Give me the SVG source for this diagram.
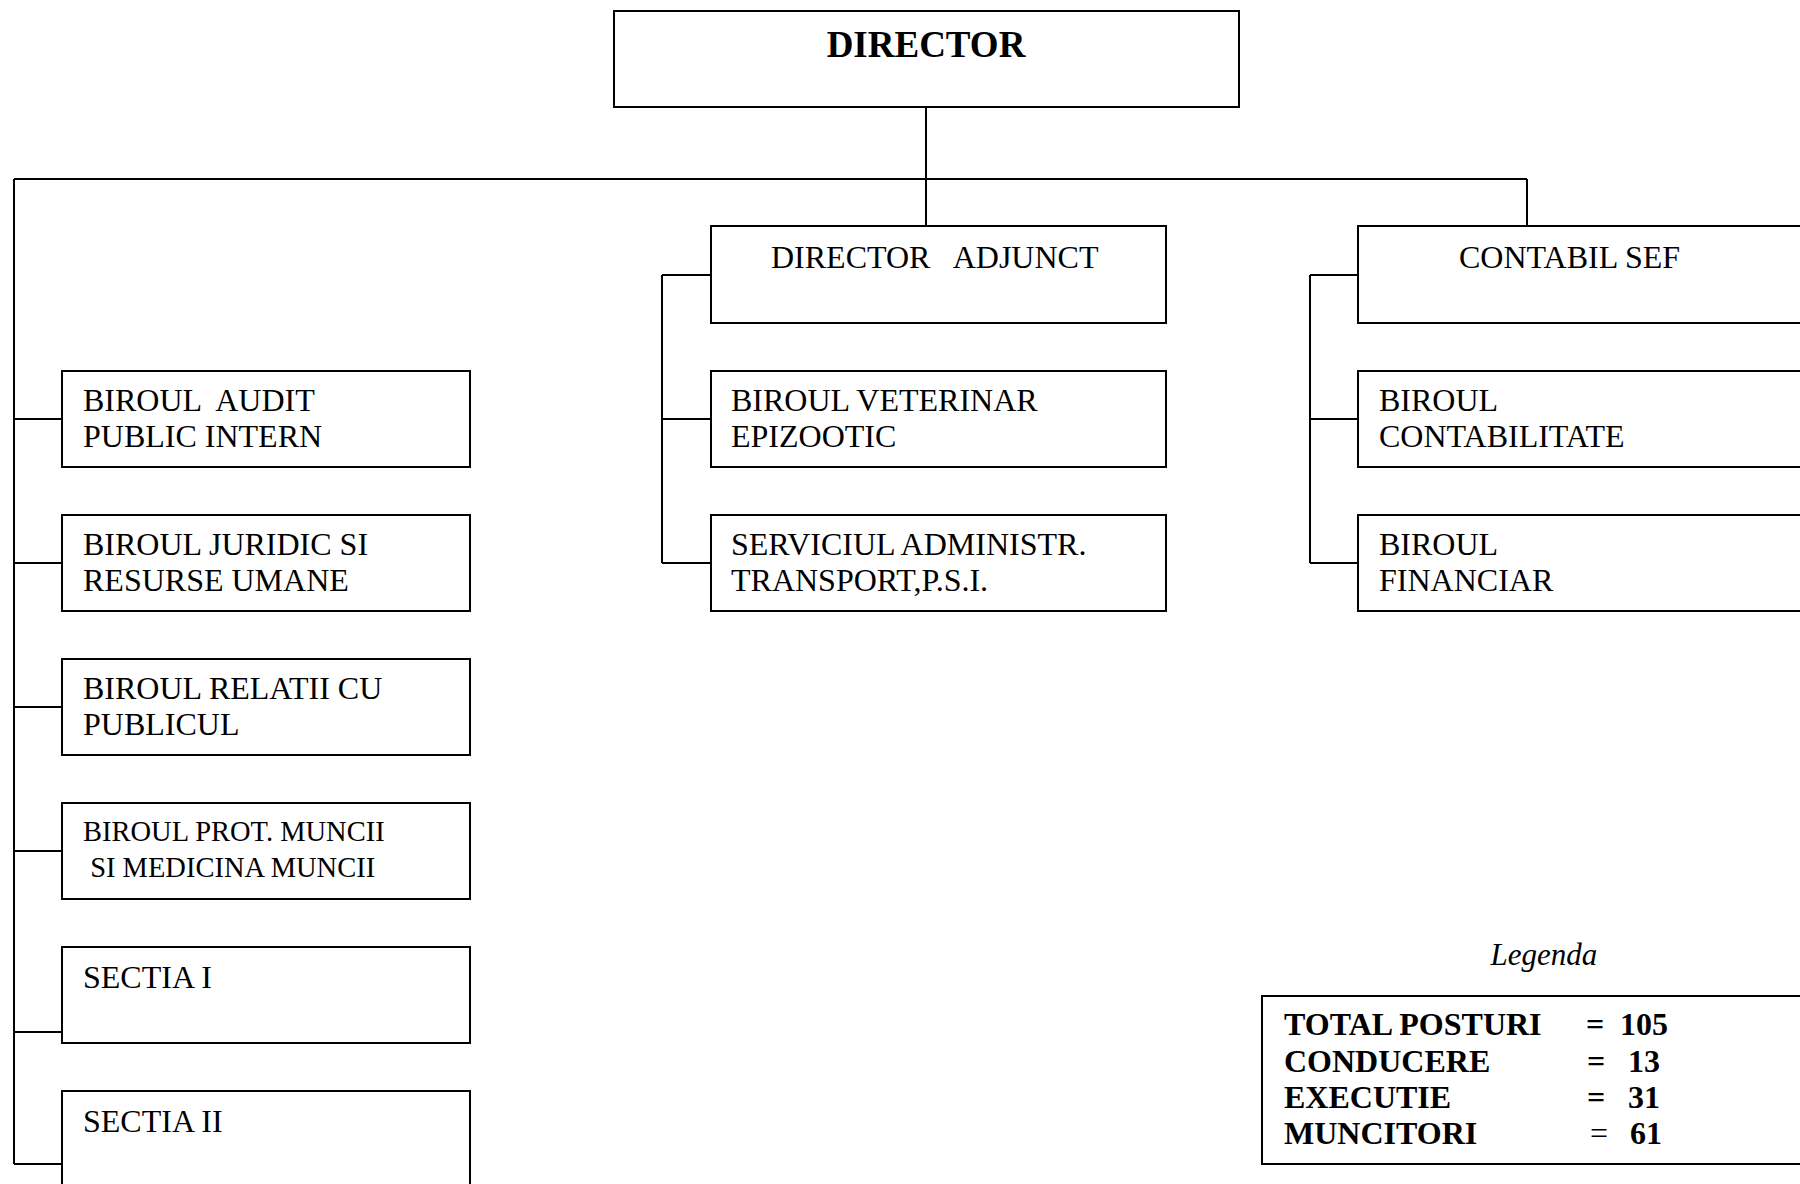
<svg xmlns="http://www.w3.org/2000/svg" width="1800" height="1184" viewBox="0 0 1800 1184">
<style>
.box{fill:#fff;stroke:#000;stroke-width:2}
.ln{fill:none;stroke:#000;stroke-width:2}
text{font-family:"Liberation Serif","Times New Roman",serif;fill:#000;white-space:pre}
.t{font-size:32px}
.ts{font-size:28.5px}
.h{font-size:37px;font-weight:bold}
.b{font-size:32px;font-weight:bold}
.i{font-size:31px;font-style:italic}
</style>
<rect width="1800" height="1184" fill="#fff"/>
<g id="connectors">
<path class="ln" d="M926 107V226M14 179H1527M1527 179V226M14 179V1164"/>
<path class="ln" d="M14 419H62M14 563H62M14 707H62M14 851H62M14 1032H62M14 1164H62"/>
<path class="ln" d="M662 275V563M662 275H711M662 419H711M662 563H711"/>
<path class="ln" d="M1310 275V563M1310 275H1358M1310 419H1358M1310 563H1358"/>
</g>
<g id="director"><rect class="box" x="614" y="11" width="625" height="96"/><text class="h" x="926" y="57" text-anchor="middle">DIRECTOR</text></g>
<g id="director-adjunct"><rect class="box" x="711" y="226" width="455" height="97"/><text class="t" x="771" y="268">DIRECTOR   ADJUNCT</text></g>
<g id="contabil-sef"><rect class="box" x="1358" y="226" width="480" height="97"/><text class="t" x="1459" y="268">CONTABIL SEF</text></g>
<g id="biroul-audit"><rect class="box" x="62" y="371" width="408" height="96"/><text class="t" x="83" y="411">BIROUL  AUDIT</text><text class="t" x="83" y="447">PUBLIC INTERN</text></g>
<g id="biroul-juridic"><rect class="box" x="62" y="515" width="408" height="96"/><text class="t" x="83" y="555">BIROUL JURIDIC SI</text><text class="t" x="83" y="591">RESURSE UMANE</text></g>
<g id="biroul-relatii"><rect class="box" x="62" y="659" width="408" height="96"/><text class="t" x="83" y="699">BIROUL RELATII CU</text><text class="t" x="83" y="735">PUBLICUL</text></g>
<g id="biroul-prot"><rect class="box" x="62" y="803" width="408" height="96"/><text class="ts" x="83" y="841">BIROUL PROT. MUNCII</text><text class="ts" x="83" y="877"> SI MEDICINA MUNCII</text></g>
<g id="sectia-1"><rect class="box" x="62" y="947" width="408" height="96"/><text class="t" x="83" y="988">SECTIA I</text></g>
<g id="sectia-2"><rect class="box" x="62" y="1091" width="408" height="96"/><text class="t" x="83" y="1132">SECTIA II</text></g>
<g id="biroul-veterinar"><rect class="box" x="711" y="371" width="455" height="96"/><text class="t" x="731" y="411">BIROUL VETERINAR</text><text class="t" x="731" y="447">EPIZOOTIC</text></g>
<g id="serviciul-administr"><rect class="box" x="711" y="515" width="455" height="96"/><text class="t" x="731" y="555">SERVICIUL ADMINISTR.</text><text class="t" x="731" y="591">TRANSPORT,P.S.I.</text></g>
<g id="biroul-contabilitate"><rect class="box" x="1358" y="371" width="480" height="96"/><text class="t" x="1379" y="411">BIROUL</text><text class="t" x="1379" y="447">CONTABILITATE</text></g>
<g id="biroul-financiar"><rect class="box" x="1358" y="515" width="480" height="96"/><text class="t" x="1379" y="555">BIROUL</text><text class="t" x="1379" y="591">FINANCIAR</text></g>
<g id="legend">
<text class="i" x="1544" y="965" text-anchor="middle">Legenda</text>
<rect class="box" x="1262" y="996" width="580" height="168"/>
<text class="b" x="1284" y="1035">TOTAL POSTURI</text><text class="b" x="1586" y="1035">=</text><text class="b" x="1620" y="1035">105</text>
<text class="b" x="1284" y="1072">CONDUCERE</text><text class="b" x="1587" y="1072">=</text><text class="b" x="1628" y="1072">13</text>
<text class="b" x="1284" y="1108">EXECUTIE</text><text class="b" x="1587" y="1108">=</text><text class="b" x="1628" y="1108">31</text>
<text class="b" x="1284" y="1144">MUNCITORI</text><text class="t" x="1590" y="1144">=</text><text class="b" x="1630" y="1144">61</text>
</g>
</svg>
